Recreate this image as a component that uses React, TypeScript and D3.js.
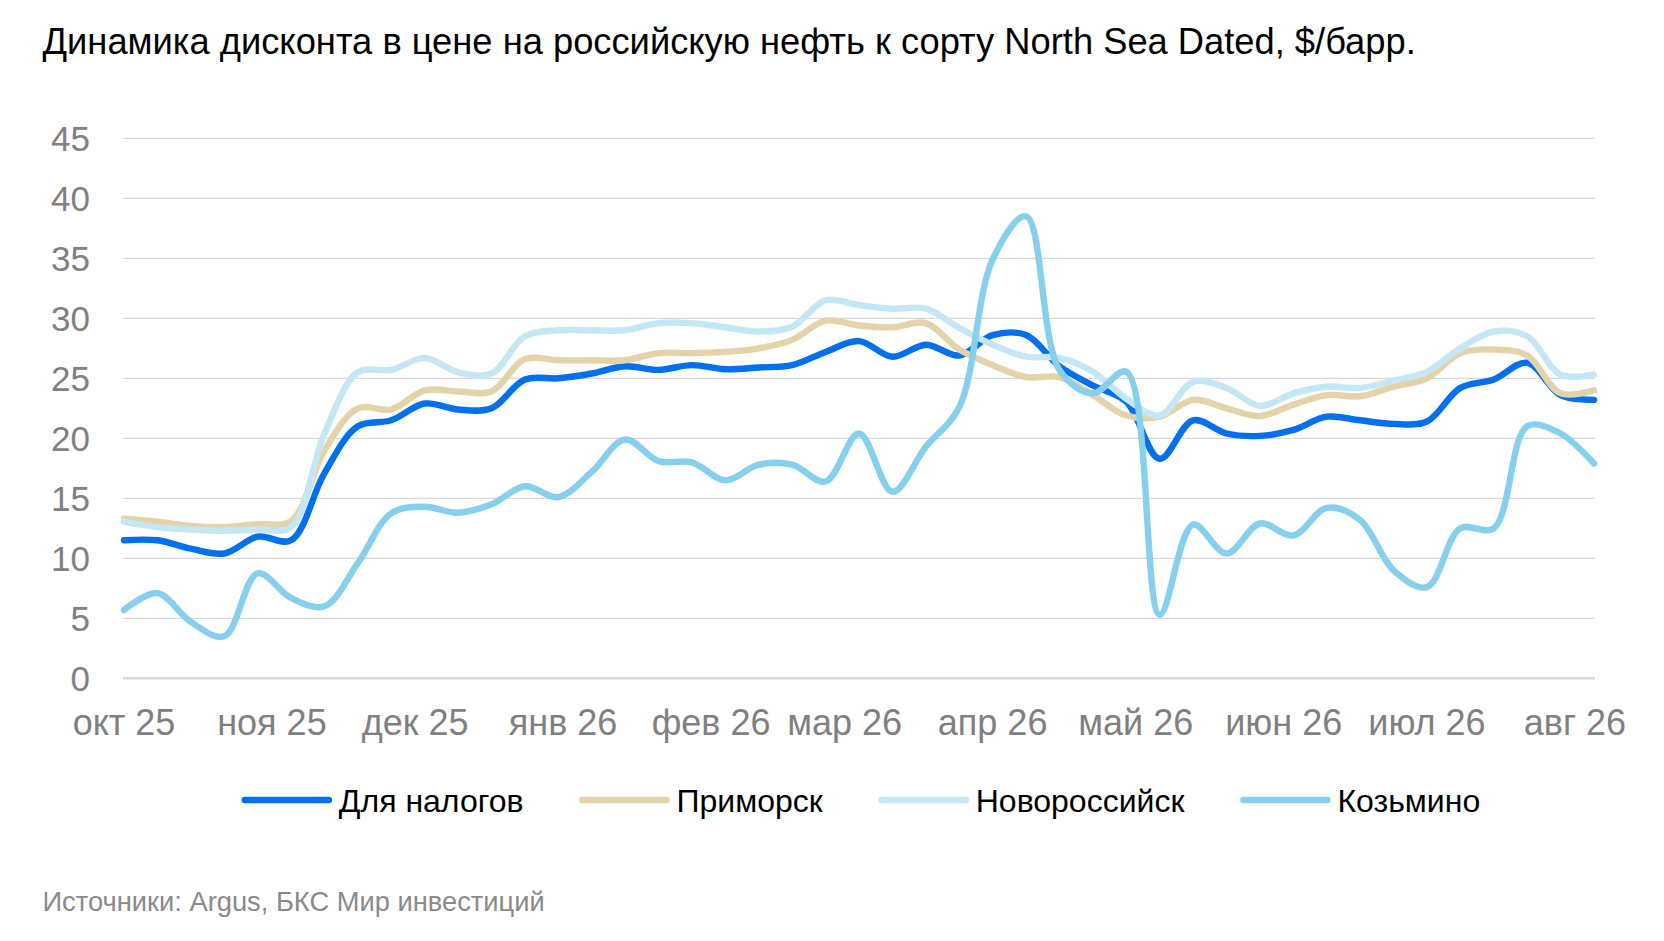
import { useEffect, useRef } from "react";
import * as d3 from "d3";

// weekly observations
const weekDates = [
	"2025-10-01", "2025-10-08", "2025-10-15", "2025-10-22", "2025-10-29",
	"2025-11-05", "2025-11-12", "2025-11-19", "2025-11-26",
	"2025-12-03", "2025-12-10", "2025-12-17", "2025-12-24", "2025-12-31",
	"2026-01-07", "2026-01-14", "2026-01-21", "2026-01-28",
	"2026-02-04", "2026-02-11", "2026-02-18", "2026-02-25",
	"2026-03-04", "2026-03-11", "2026-03-18", "2026-03-25",
	"2026-04-01", "2026-04-08", "2026-04-15", "2026-04-22", "2026-04-29",
	"2026-05-06", "2026-05-13", "2026-05-20", "2026-05-27",
	"2026-06-03", "2026-06-10", "2026-06-17", "2026-06-24",
	"2026-07-01", "2026-07-08", "2026-07-15", "2026-07-22", "2026-07-29",
	"2026-08-05"
];

const taxValues = [
	11.5, 11.5, 10.8, 10.4, 11.8, 11.5, 17.1, 21.0, 21.5, 22.9, 22.4, 22.5, 24.9, 25.0, 25.4,
	26.0, 25.7, 26.1, 25.75, 25.9, 26.1, 27.2, 28.1, 26.8, 27.8, 26.9, 28.6, 28.6, 26.0, 24.4,
	23.05, 18.3, 21.5, 20.4, 20.2, 20.7, 21.8, 21.5, 21.2, 21.4, 24.2, 24.9, 26.3, 23.6, 23.2
];

const primorskValues = [
	13.3, 13.05, 12.7, 12.6, 12.85, 13.1, 19.0, 22.5, 22.4, 24.0, 23.9, 23.9, 26.6, 26.5, 26.5,
	26.5, 27.1, 27.1, 27.2, 27.5, 28.2, 29.8, 29.4, 29.25, 29.6, 27.4, 26.1, 25.1, 25.1, 23.6,
	21.9, 21.8, 23.2, 22.5, 21.85, 22.8, 23.6, 23.5, 24.3, 25.0, 27.1, 27.4, 26.9, 23.75, 24.0
];

const novorossiyskValues = [
	13.05, 12.6, 12.4, 12.3, 12.4, 12.6, 20.4, 25.5, 25.7, 26.7, 25.5, 25.4, 28.5, 29.0, 29.0,
	29.0, 29.6, 29.6, 29.25, 28.9, 29.3, 31.5, 31.1, 30.8, 30.8, 29.2, 27.8, 26.8, 26.7, 25.55,
	23.3, 21.9, 24.7, 24.2, 22.7, 23.75, 24.3, 24.2, 24.8, 25.55, 27.5, 28.9, 28.5, 25.3, 25.3
];

const kozminoValues = [
	5.7, 7.1, 4.7, 3.5, 8.75, 6.7, 6.0, 9.6, 13.75, 14.3, 13.8, 14.5, 16.0, 15.1, 17.2,
	19.9, 18.1, 18.0, 16.5, 17.8, 17.8, 16.4, 20.4, 15.55, 19.3, 22.6, 34.9, 38.5, 25.7, 23.75,
	25.55, 5.3, 12.8, 10.4, 12.9, 11.9, 14.2, 13.2, 9.0, 7.6, 12.5, 12.5, 21.0, 20.4, 17.9
];

const monthTicks = [
	"2025-10-01", "2025-11-01", "2025-12-01", "2026-01-01", "2026-02-01", "2026-03-01",
	"2026-04-01", "2026-05-01", "2026-06-01", "2026-07-01", "2026-08-01"
];
const monthLabels = [
	"окт 25", "ноя 25", "дек 25", "янв 26", "фев 26", "мар 26",
	"апр 26", "май 26", "июн 26", "июл 26", "авг 26"
];
const yTicks = [0, 5, 10, 15, 20, 25, 30, 35, 40, 45];

const seriesNames = ["Для налогов", "Приморск", "Новороссийск", "Козьмино"];
const seriesValues = [taxValues, primorskValues, novorossiyskValues, kozminoValues];
const seriesColors = ["#0070f0", "#e4d3a8", "#c4e7f5", "#86d0ee"];

const titleText = "Динамика дисконта в цене на российскую нефть к сорту North Sea Dated, $/барр.";
const sourceText = "Источники: Argus, БКС Мир инвестиций";

const fontFamily = "'Liberation Sans', Arial, sans-serif";

export default function App() {
	const svgRef = useRef<SVGSVGElement>(null);

	useEffect(() => {
		if (!svgRef.current) {
			return;
		}
		const width = 1664;
		const height = 941;
		const plot = { left: 123, right: 1595, top: 138.3, bottom: 678.3 };

		const svg = d3.select(svgRef.current);
		svg.selectAll("*").remove();
		svg.attr("font-family", fontFamily);

		svg.append("rect").attr("width", width).attr("height", height).attr("fill", "#ffffff");

		const parse = d3.utcParse("%Y-%m-%d");
		const dates = weekDates.map((d) => parse(d) as Date);

		const xScale = d3
			.scaleUtc()
			.domain([dates[0], dates[dates.length - 1]])
			.range([124, 1594]);
		const yScale = d3.scaleLinear().domain([0, 45]).range([plot.bottom, plot.top]);

		// title
		svg
			.append("text")
			.attr("x", 42.5)
			.attr("y", 54)
			.attr("font-size", 36.3)
			.attr("fill", "#000000")
			.text(titleText);

		// grid
		svg
			.append("g")
			.selectAll("line")
			.data(yTicks)
			.join("line")
			.attr("x1", plot.left)
			.attr("x2", plot.right)
			.attr("y1", (v) => yScale(v))
			.attr("y2", (v) => yScale(v))
			.attr("stroke", "#d9d9d9")
			.attr("stroke-width", (v) => (v === 0 ? 2.6 : 1.3));

		// y labels
		svg
			.append("g")
			.selectAll("text")
			.data(yTicks)
			.join("text")
			.attr("x", 90)
			.attr("y", (v) => yScale(v) + 12.6)
			.attr("text-anchor", "end")
			.attr("font-size", 35)
			.attr("fill", "#808080")
			.text((v) => `${v}`);

		// x labels
		svg
			.append("g")
			.selectAll("text")
			.data(monthTicks)
			.join("text")
			.attr("x", (d) => xScale(parse(d) as Date))
			.attr("y", 735)
			.attr("text-anchor", "middle")
			.attr("font-size", 36)
			.attr("fill", "#808080")
			.text((_, i) => monthLabels[i]);

		// series lines
		const lineGen = d3
			.line<number>()
			.x((_, i) => xScale(dates[i]))
			.y((v) => yScale(v))
			.curve(d3.curveCatmullRom.alpha(0.5));

		svg
			.append("g")
			.selectAll("path")
			.data(seriesValues)
			.join("path")
			.attr("d", (values) => lineGen(values) ?? "")
			.attr("fill", "none")
			.attr("stroke", (_, i) => seriesColors[i])
			.attr("stroke-width", 6.4)
			.attr("stroke-linecap", "round")
			.attr("stroke-linejoin", "round");

		// legend
		const legend = svg.append("g");
		const items = legend
			.selectAll("g")
			.data(seriesNames)
			.join("g");
		items
			.append("line")
			.attr("x1", 3)
			.attr("x2", 87)
			.attr("y1", 0)
			.attr("y2", 0)
			.attr("stroke", (_, i) => seriesColors[i])
			.attr("stroke-width", 6.5)
			.attr("stroke-linecap", "round");
		items
			.append("text")
			.attr("x", 97)
			.attr("y", 11.5)
			.attr("font-size", 32)
			.attr("fill", "#000000")
			.text((d) => d);

		const textWidths: number[] = [];
		items.select<SVGTextElement>("text").each(function () {
			textWidths.push(this.getComputedTextLength());
		});
		const gap = 56;
		const total = textWidths.reduce((s, w) => s + 97 + w, 0) + gap * (seriesNames.length - 1);
		let cursor = 861 - total / 2;
		items.attr("transform", (_, i) => {
			const x = cursor;
			cursor += 97 + textWidths[i] + gap;
			return `translate(${x},800)`;
		});

		// source
		svg
			.append("text")
			.attr("x", 42.5)
			.attr("y", 911)
			.attr("font-size", 27.3)
			.attr("fill", "#8a8a8a")
			.text(sourceText);
	}, []);

	return (
		<svg
			ref={svgRef}
			width={1664}
			height={941}
			style={{ position: "absolute", left: 0, top: 0, display: "block" }}
		/>
	);
}
